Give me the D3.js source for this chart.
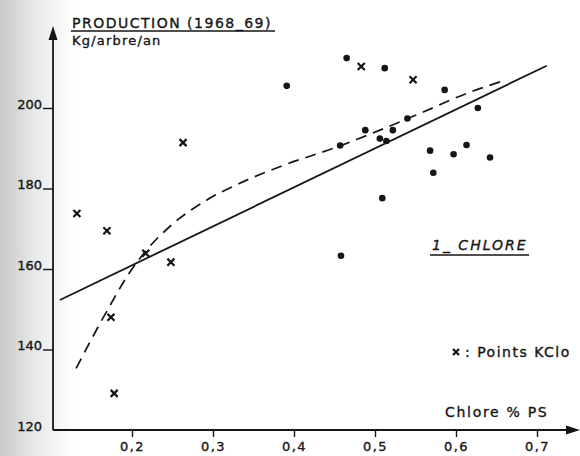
<!DOCTYPE html>
<html>
<head>
<meta charset="utf-8">
<script src="https://cdnjs.cloudflare.com/ajax/libs/d3/7.8.5/d3.min.js"></script>
<style>
    body { margin: 0; background: #fff; }
    svg { display: block; }
    text { font-family: "DejaVu Sans", sans-serif; fill: #151515; stroke: #151515; stroke-width: 0.35px; }
</style>
</head>
<body>
<svg width="580" height="456"></svg>
<script>
var svg = d3.select('svg');

// data
var xTicks = [0.2, 0.3, 0.4, 0.5, 0.6, 0.7];
var yTicks = [120, 140, 160, 180, 200];

// dots
var dotX = [0.391, 0.465, 0.512, 0.586, 0.627, 0.540, 0.488, 0.522, 0.506, 0.514, 0.457, 0.568, 0.597, 0.613, 0.642, 0.572, 0.509, 0.458];
var dotY = [205.5, 212.4, 209.9, 204.5, 200.0, 197.4, 194.5, 194.5, 192.4, 191.8, 190.7, 189.4, 188.5, 190.8, 187.7, 183.9, 177.6, 163.3];

// crosses : Points KClo
var crossX = [0.132, 0.169, 0.217, 0.248, 0.174, 0.178, 0.263, 0.483, 0.547];
var crossY = [173.8, 169.5, 163.9, 161.7, 148.0, 129.1, 191.4, 210.3, 207.0];

// straight line (two ends)
var lineX = [0.111, 0.712];
var lineY = [152.3, 210.5];

// dashed curve
var curveX = [0.131, 0.165, 0.200, 0.218, 0.251, 0.292, 0.333, 0.385, 0.457, 0.506, 0.556, 0.613, 0.662];
var curveY = [135.3, 148.1, 160.0, 164.7, 171.3, 177.1, 181.3, 185.6, 190.6, 194.5, 198.7, 203.6, 207.0];

var x = d3.scaleLinear().domain([0.2, 0.7]).range([132, 537]);
var y = d3.scaleLinear().domain([120, 220]).range([430, 27.5]);

// grey edge of the scanned page
var defs = svg.append('defs');
var grad = defs.append('linearGradient').attr('id', 'edge');
grad.append('stop').attr('offset', '0%').attr('stop-color', '#c8c8c8');
grad.append('stop').attr('offset', '45%').attr('stop-color', '#e8e8e8');
grad.append('stop').attr('offset', '100%').attr('stop-color', '#ffffff');
svg.append('rect')
    .attr('x', 0).attr('y', 0)
    .attr('width', 75).attr('height', 456)
    .attr('fill', 'url(#edge)');

// axes
var x0 = x(0.1025);
var xAxis = d3.axisBottom(x)
    .tickValues(xTicks)
    .tickSize(7)
    .tickFormat(function(d) { return d3.format('.1f')(d).replace('.', ','); });

var gx = svg.append('g')
    .attr('transform', 'translate(0,' + y(120) + ')')
    .call(xAxis);
gx.select('.domain').remove();
gx.selectAll('line').attr('stroke', '#151515').attr('stroke-width', 1.4);
gx.selectAll('text')
    .attr('y', 12)
    .attr('font-size', 13)
    .attr('letter-spacing', 1.4)
    .attr('fill', '#151515');

var yAxis = d3.axisLeft(y)
    .tickValues(yTicks)
    .tickSize(10)
    .tickFormat(d3.format('d'));

var gy = svg.append('g')
    .attr('transform', 'translate(' + x0 + ',0)')
    .call(yAxis);
gy.select('.domain').remove();
gy.selectAll('line').attr('stroke', '#151515').attr('stroke-width', 1.4);
gy.selectAll('.tick').filter(function(d) { return d === 120; }).select('line').remove();
gy.selectAll('text')
    .attr('x', -11)
    .attr('dy', '0em')
    .attr('y', 0)
    .attr('font-size', 13)
    .attr('fill', '#151515');

// axis lines with arrows
svg.append('line')
    .attr('x1', x0).attr('y1', y(120))
    .attr('x2', 572).attr('y2', y(120))
    .attr('stroke', '#151515').attr('stroke-width', 1.8);
svg.append('path')
    .attr('d', 'M580,' + y(120) + 'L566,' + (y(120) - 4.5) + 'L566,' + (y(120) + 4.5) + 'Z')
    .attr('fill', '#151515');

svg.append('line')
    .attr('x1', x0).attr('y1', y(120))
    .attr('x2', x0).attr('y2', 36)
    .attr('stroke', '#151515').attr('stroke-width', 1.8);
svg.append('path')
    .attr('d', 'M' + x0 + ',26L' + (x0 - 4.5) + ',40L' + (x0 + 4.5) + ',40Z')
    .attr('fill', '#151515');

// straight line
var lineData = lineX.map(function(v, i) { return [v, lineY[i]]; });
svg.append('path')
    .datum(lineData)
    .attr('fill', 'none')
    .attr('stroke', '#151515')
    .attr('stroke-width', 1.8)
    .attr('d', d3.line()
        .x(function(d) { return x(d[0]); })
        .y(function(d) { return y(d[1]); }));

// dashed curve
var curveData = curveX.map(function(v, i) { return [v, curveY[i]]; });
svg.append('path')
    .datum(curveData)
    .attr('fill', 'none')
    .attr('stroke', '#151515')
    .attr('stroke-width', 1.7)
    .attr('stroke-dasharray', '11,7')
    .attr('d', d3.line()
        .curve(d3.curveMonotoneX)
        .x(function(d) { return x(d[0]); })
        .y(function(d) { return y(d[1]); }));

// dots
var dots = dotX.map(function(v, i) { return {cx: v, cy: dotY[i]}; });
svg.selectAll('circle.dot')
    .data(dots)
    .enter()
    .append('circle')
    .attr('class', 'dot')
    .attr('cx', function(d) { return x(d.cx); })
    .attr('cy', function(d) { return y(d.cy); })
    .attr('r', 3.3)
    .attr('fill', '#151515');

// crosses
var crosses = crossX.map(function(v, i) { return {cx: v, cy: crossY[i]}; });
svg.selectAll('path.cross')
    .data(crosses)
    .enter()
    .append('path')
    .attr('class', 'cross')
    .attr('transform', function(d) { return 'translate(' + x(d.cx) + ',' + y(d.cy) + ')'; })
    .attr('d', d3.symbol().type(d3.symbolX).size(34))
    .attr('fill', 'none')
    .attr('stroke', '#151515')
    .attr('stroke-width', 2.2);

// title
svg.append('text')
    .attr('x', 72).attr('y', 28)
    .attr('font-size', 14)
    .attr('letter-spacing', 1.5)
    .text('PRODUCTION (1968_69)');
svg.append('line')
    .attr('x1', 71).attr('y1', 31)
    .attr('x2', 275).attr('y2', 31)
    .attr('stroke', '#151515').attr('stroke-width', 1.3);
svg.append('text')
    .attr('x', 72).attr('y', 45)
    .attr('font-size', 13)
    .attr('letter-spacing', 1.2)
    .text('Kg/arbre/an');

// labels
svg.append('text')
    .attr('x', 432).attr('y', 250)
    .attr('font-size', 14)
    .attr('font-style', 'italic')
    .attr('letter-spacing', 2)
    .text('1_ CHLORE');
svg.append('line')
    .attr('x1', 430).attr('y1', 255)
    .attr('x2', 529).attr('y2', 255)
    .attr('stroke', '#151515').attr('stroke-width', 1.3);

// legend
svg.append('path')
    .attr('transform', 'translate(456,352)')
    .attr('d', d3.symbol().type(d3.symbolX).size(26))
    .attr('fill', 'none')
    .attr('stroke', '#151515')
    .attr('stroke-width', 2.2);
svg.append('text')
    .attr('x', 465).attr('y', 357)
    .attr('font-size', 14)
    .attr('letter-spacing', 1.5)
    .text(': Points KClo');

svg.append('text')
    .attr('x', 445).attr('y', 417)
    .attr('font-size', 14)
    .attr('letter-spacing', 1.7)
    .text('Chlore % PS');
</script>
</body>
</html>
